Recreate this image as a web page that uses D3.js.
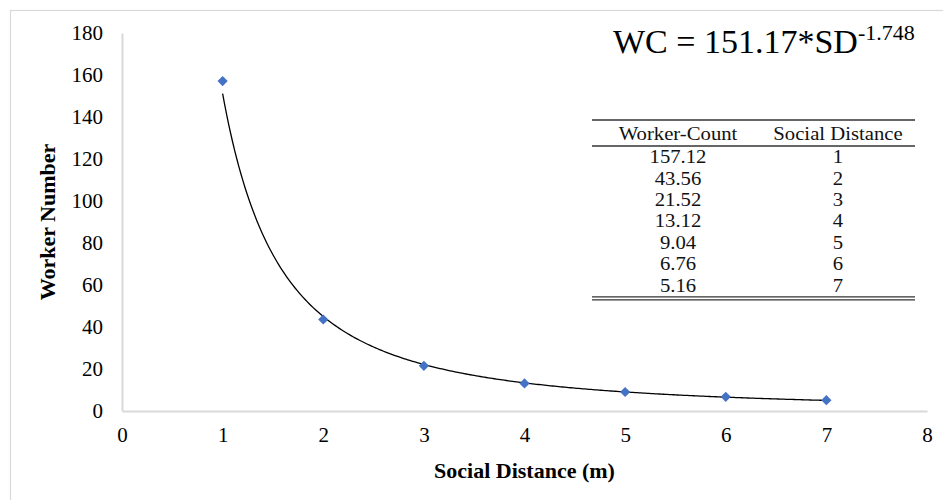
<!DOCTYPE html>
<html>
<head>
<meta charset="utf-8">
<script src="https://cdn.jsdelivr.net/npm/d3@7"></script>
<style>
  html, body { margin: 0; padding: 0; background: #fff; }
  svg { display: block; }
  svg text { font-family: 'Liberation Serif', 'Times New Roman', serif; }
</style>
</head>
<body>
<svg id="chart" width="943" height="500"></svg>
<script>
// ---- data ----
const socialDistance = [1, 2, 3, 4, 5, 6, 7];
const workerCount = [157.12, 43.56, 21.52, 13.12, 9.04, 6.76, 5.16];
const fitCoef = 151.17;
const fitExp = -1.748;
const xTicks = [0, 1, 2, 3, 4, 5, 6, 7, 8];
const yTicks = [0, 20, 40, 60, 80, 100, 120, 140, 160, 180];
const tableHeaders = ["Worker-Count", "Social Distance"];
const tableCount = ["157.12", "43.56", "21.52", "13.12", "9.04", "6.76", "5.16"];
const tableDist = ["1", "2", "3", "4", "5", "6", "7"];

const SERIF = "'Liberation Serif', 'Times New Roman', serif";
const svg = d3.select("#chart");

// outer frame (extends past right/bottom edges)
svg.append("rect").attr("x", 10.5).attr("y", 10.5).attr("width", 960).attr("height", 520)
  .attr("fill", "none").attr("stroke", "#d9d9d9").attr("stroke-width", 1.2);

const x = d3.scaleLinear().domain([0, 8]).range([122, 927]);
const y = d3.scaleLinear().domain([0, 180]).range([411, 33]);

// axes
const xAxis = d3.axisBottom(x).tickValues(xTicks).tickSize(0).tickPadding(16);
const gx = svg.append("g").attr("transform", `translate(0,${y(0)})`).call(xAxis);
gx.select(".domain").attr("stroke", "#d9d9d9").attr("stroke-width", 2);
gx.selectAll("text").attr("font-size", 21).attr("fill", "#000").style("font-family", SERIF);

const yAxis = d3.axisLeft(y).tickValues(yTicks).tickSize(0).tickPadding(19);
const gy = svg.append("g").attr("transform", `translate(${x(0)},0)`).call(yAxis);
gy.select(".domain").attr("stroke", "#d9d9d9").attr("stroke-width", 2);
gy.selectAll("text").attr("font-size", 21).attr("fill", "#000").style("font-family", SERIF);

// fit curve
const curveX = d3.range(1, 7.0001, 0.02);
const line = d3.line().x(d => x(d)).y(d => y(fitCoef * Math.pow(d, fitExp)));
svg.append("path").datum(curveX).attr("d", line)
  .attr("fill", "none").attr("stroke", "#000").attr("stroke-width", 1.3);

// markers (square rotated 45deg = diamond)
const diamond = d3.symbol().type(d3.symbolSquare).size(52);
svg.selectAll(".pt").data(socialDistance).join("path")
  .attr("class", "pt")
  .attr("d", diamond)
  .attr("transform", (d, i) => `translate(${x(d)},${y(workerCount[i])}) rotate(45)`)
  .attr("fill", "#4472c4");

// axis titles
svg.append("text").attr("x", (x(0) + x(8)) / 2).attr("y", 478)
  .attr("text-anchor", "middle").attr("font-weight", "bold").attr("font-size", 22)
  .style("font-family", SERIF)
  .text("Social Distance (m)");
svg.append("text").attr("transform", `translate(55,${(y(0) + y(180)) / 2}) rotate(-90)`)
  .attr("text-anchor", "middle").attr("font-weight", "bold").attr("font-size", 22)
  .style("font-family", SERIF)
  .text("Worker Number");

// equation
const eq = svg.append("text").attr("x", 613).attr("y", 53).attr("font-size", 34)
  .style("font-family", SERIF);
eq.append("tspan").text(`WC = ${fitCoef}*SD`);
eq.append("tspan").attr("dy", -13).attr("font-size", 22).text(String(fitExp));

// table
const tL = 592, tR = 915, tTop = 120, hdrLine = 146, rowH = 21.4;
const col1 = 678, col2 = 838;
const tbl = svg.append("g");
tbl.append("line").attr("x1", tL).attr("x2", tR).attr("y1", tTop).attr("y2", tTop).attr("stroke", "#333").attr("stroke-width", 1.6);
tbl.append("line").attr("x1", tL).attr("x2", tR).attr("y1", hdrLine).attr("y2", hdrLine).attr("stroke", "#333").attr("stroke-width", 1.6);
function cell(xp, yp, txt, dy) {
  tbl.append("text").attr("transform", `translate(${xp},${yp}) scale(1.12,1)`).attr("dy", dy)
    .attr("text-anchor", "middle").attr("font-size", 18.5).attr("fill", "#111")
    .style("font-family", SERIF).text(txt);
}
cell(col1, 140, tableHeaders[0], 0);
cell(col2, 140, tableHeaders[1], 0);
tableCount.forEach((v, i) => {
  const cy = hdrLine + rowH * (i + 0.5);
  cell(col1, cy, v, "0.35em");
  cell(col2, cy, tableDist[i], "0.35em");
});
const bottom = hdrLine + rowH * tableCount.length;
tbl.append("line").attr("x1", tL).attr("x2", tR).attr("y1", bottom + 1).attr("y2", bottom + 1).attr("stroke", "#333").attr("stroke-width", 1.2);
tbl.append("line").attr("x1", tL).attr("x2", tR).attr("y1", bottom + 4).attr("y2", bottom + 4).attr("stroke", "#333").attr("stroke-width", 1.2);
</script>
</body>
</html>
